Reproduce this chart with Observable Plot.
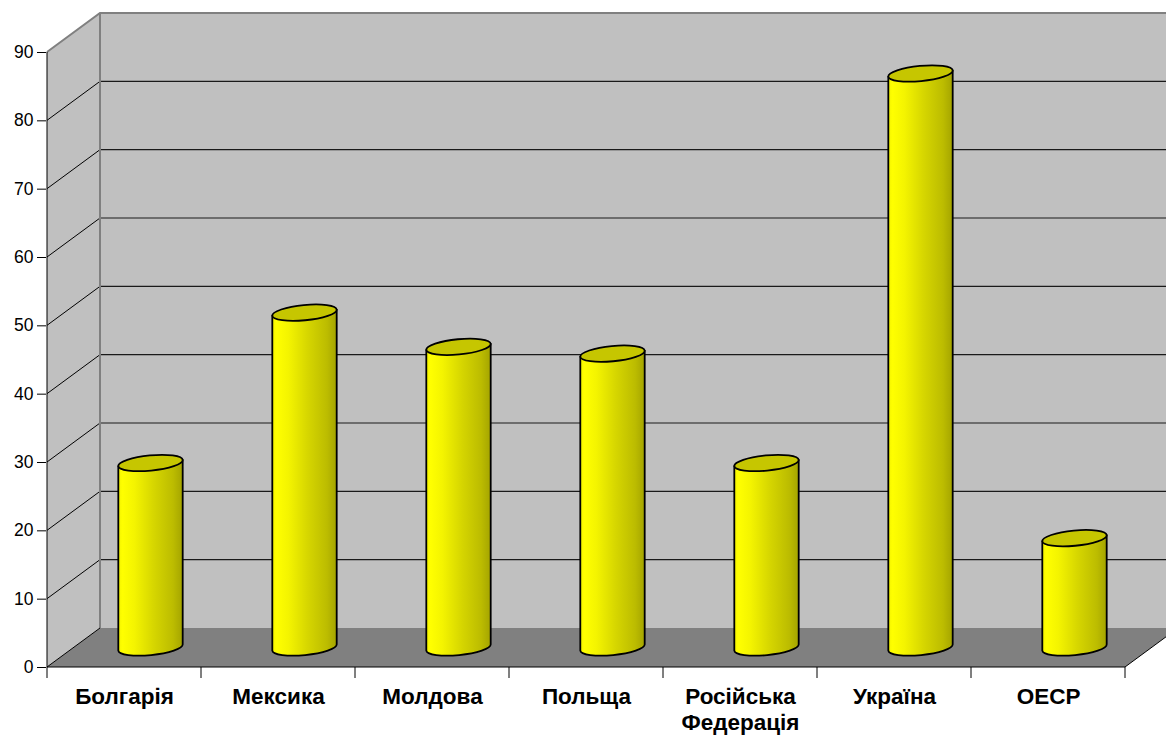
<!DOCTYPE html>
<html><head><meta charset="utf-8">
<script src="https://cdn.jsdelivr.net/npm/d3@7"></script>
<script src="https://cdn.jsdelivr.net/npm/@observablehq/plot@0.6"></script>
<style>
html,body{margin:0;padding:0;background:#fff;}
#chart svg{display:block;overflow:hidden;}
</style>
</head><body><div id="chart"></div>
<script>
// ---- data ----
const categories = ["Болгарія", "Мексика", "Молдова", "Польща", "Російська Федерація", "Україна", "ОЕСР"];
const categoryLabels = ["Болгарія", "Мексика", "Молдова", "Польща", "Російська\nФедерація", "Україна", "ОЕСР"];
const values = [27, 49, 44, 43, 27, 84, 16];
const yTicks = [0, 10, 20, 30, 40, 50, 60, 70, 80, 90];

const rows = categories.map((c, i) => ({category: c, value: values[i]}));

// ---- style constants ----
const DX = 53, DY = -39;          // depth offset of the 3D box
const FONT = "'Liberation Sans', Arial, Helvetica, sans-serif";

function scene(index, scales, vals, dims) {
  const x = scales.x, y = scales.y;
  const n = categories.length;
  const bw = x.bandwidth ? x.bandwidth() : (dims.width - dims.marginLeft - dims.marginRight) / n;
  const x0 = x(categories[0]);
  const x1 = x(categories[n - 1]) + bw;
  const yMin = y(0), yMax = y(90);
  const g = d3.create("svg:g");

  // gradient
  const defs = g.append("defs");
  const grad = defs.append("linearGradient").attr("id", "cylGrad")
    .attr("x1", "0").attr("x2", "1").attr("y1", "0").attr("y2", "0");
  [[0, "#f2f200"], [0.06, "#ffff00"], [0.25, "#f4f400"], [0.55, "#d6d600"], [0.85, "#bcbc00"], [1, "#a4a400"]]
    .forEach(([o, c]) => grad.append("stop").attr("offset", o).attr("stop-color", c));

  // back wall
  g.append("rect").attr("x", x0 + DX).attr("y", yMax + DY)
    .attr("width", x1 - x0).attr("height", yMin - yMax).attr("fill", "#c0c0c0");
  // side wall
  g.append("path").attr("d", `M${x0},${yMin}L${x0},${yMax}L${x0 + DX},${yMax + DY}L${x0 + DX},${yMin + DY}Z`)
    .attr("fill", "#c0c0c0");
  // back gridlines and side diagonals
  yTicks.filter(v => v > 0 && v < 90).forEach(v => {
    g.append("line").attr("x1", x0 + DX).attr("x2", x1 + DX).attr("y1", y(v) + DY).attr("y2", y(v) + DY)
      .attr("stroke", "#1a1a1a").attr("stroke-width", 1.2);
    g.append("line").attr("x1", x0).attr("x2", x0 + DX).attr("y1", y(v)).attr("y2", y(v) + DY)
      .attr("stroke", "#000").attr("stroke-width", 1);
  });
  // wall borders (grey)
  g.append("path").attr("d", `M${x0},${yMax}L${x0 + DX},${yMax + DY}L${x1 + DX},${yMax + DY}M${x0 + DX},${yMax + DY}L${x0 + DX},${yMin + DY}`)
    .attr("fill", "none").attr("stroke", "#808080").attr("stroke-width", 2);
  // floor
  g.append("path").attr("d", `M${x0},${yMin}L${x1},${yMin}L${x1 + DX},${yMin + DY}L${x0 + DX},${yMin + DY}Z`)
    .attr("fill", "#808080");
  g.append("path").attr("d", `M${x0},${yMin}L${x0 + DX},${yMin + DY}M${x1},${yMin}L${x1 + DX},${yMin + DY}`)
    .attr("fill", "none").attr("stroke", "#000").attr("stroke-width", 1);

  // cylinders
  const rx = bw * 0.21, ry = 7.6, rot = -5.5;
  const t = rot * Math.PI / 180;
  const ex = rx * Math.cos(t), ey = rx * Math.sin(t);
  rows.forEach(d => {
    const cx = x(d.category) + bw / 2 + DX / 2;
    const cyB = y(0) + DY / 2, cyT = y(d.value) + DY / 2;
    const lT = [cx - ex, cyT - ey], rT = [cx + ex, cyT + ey];
    const lB = [cx - ex, cyB - ey], rB = [cx + ex, cyB + ey];
    g.append("path")
      .attr("d", `M${lT}L${lB}A${rx},${ry} ${rot} 0 0 ${rB}L${rT}Z`)
      .attr("fill", "url(#cylGrad)").attr("stroke", "#000").attr("stroke-width", 1.8).attr("stroke-linejoin", "round");
    g.append("ellipse").attr("cx", cx).attr("cy", cyT).attr("rx", rx).attr("ry", ry)
      .attr("transform", `rotate(${rot},${cx},${cyT})`)
      .attr("fill", "#c6c600").attr("stroke", "#000").attr("stroke-width", 1.8);
  });

  // axes lines
  g.append("line").attr("x1", x0).attr("x2", x0).attr("y1", yMax).attr("y2", yMin + 11)
    .attr("stroke", "#000").attr("stroke-width", 1);
  g.append("line").attr("x1", x0).attr("x2", x1).attr("y1", yMin).attr("y2", yMin)
    .attr("stroke", "#000").attr("stroke-width", 1);
  for (let i = 1; i <= n; i++) {
    const xe = x0 + i * bw;
    g.append("line").attr("x1", xe).attr("x2", xe).attr("y1", yMin).attr("y2", yMin + 11)
      .attr("stroke", "#000").attr("stroke-width", 1);
  }
  return g.node();
}

const chart = Plot.plot({
  width: 1166,
  height: 738,
  marginLeft: 46,
  marginRight: 41,
  marginTop: 52,
  marginBottom: 71,
  style: {fontFamily: FONT, background: "#fff", color: "#000"},
  x: {type: "band", domain: categories, padding: 0},
  y: {domain: [0, 90]},
  marks: [
    scene,
    Plot.axisY(yTicks, {tickSize: 9, tickPadding: 4, fontSize: 17.5, label: null, stroke: "#000", fill: "#000"}),
    Plot.axisX({
      tickSize: 0, tickPadding: 18, fontSize: 22.5, fontWeight: "bold", label: null, lineHeight: 1.16,
      tickFormat: c => categoryLabels[categories.indexOf(c)], fill: "#000"
    })
  ]
});
document.getElementById("chart").appendChild(chart);
</script>
</body></html>
